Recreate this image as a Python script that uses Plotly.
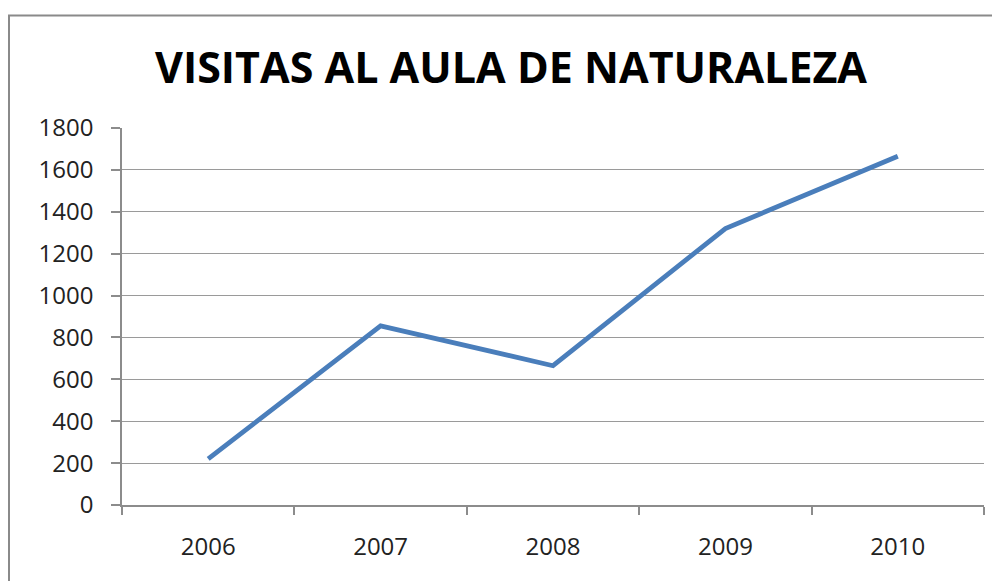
import plotly.graph_objects as go

years = ["2006", "2007", "2008", "2009", "2010"]
visitas = [220, 855, 665, 1320, 1665]
y_ticks = [0, 200, 400, 600, 800, 1000, 1200, 1400, 1600, 1800]

fig = go.Figure()
fig.add_trace(go.Scatter(
    x=years, y=visitas, mode="lines",
    line=dict(color="#4A7EBB", width=4.8),
    showlegend=False,
))

fig.update_layout(
    width=1000, height=581,
    margin=dict(l=114, r=24, t=120, b=84),
    paper_bgcolor="white", plot_bgcolor="white",
    title=dict(text="<b>VISITAS AL AULA DE NATURALEZA</b>",
               x=0.503, xanchor="center", y=0.8967, yanchor="middle",
               font=dict(family="Open Sans", size=43, color="#000000")),
    font=dict(family="Open Sans", size=24, color="#222222"),
)
fig.update_xaxes(
    type="category", range=[-0.5, 4.5], tickson="boundaries",
    showgrid=False, showline=True, linecolor="#8c8c8c", linewidth=1.5,
    ticks="outside", ticklen=8, tickcolor="#8c8c8c", tickwidth=1.5,
    ticklabelstandoff=19,
)
fig.update_yaxes(
    range=[0, 1800], tickvals=y_ticks,
    showgrid=True, gridcolor="#9a9a9a", gridwidth=1.2,
    showline=True, linecolor="#8c8c8c", linewidth=1.5,
    ticks="outside", ticklen=9, tickcolor="#8c8c8c", tickwidth=1.5,
    ticklabelstandoff=13, zeroline=False,
)
fig.add_shape(type="rect", xref="paper", yref="paper",
              x0=-0.1311, x1=1.2, y0=-0.4, y1=1.2984,
              line=dict(color="#8a8a8a", width=2), fillcolor="rgba(0,0,0,0)",
              layer="above")

fig.write_html("out.html")
